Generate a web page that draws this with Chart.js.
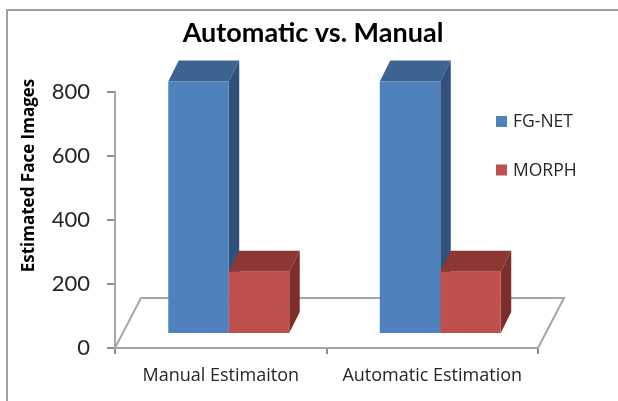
<!DOCTYPE html>
<html>
<head>
<meta charset="utf-8">
<style>
    html, body { margin: 0; padding: 0; background: #fff; }
    #wrap { position: relative; width: 618px; height: 401px; overflow: hidden; }
    #frame { position: absolute; left: 6px; top: 9px; width: 640px; height: 420px; border: 2px solid #a0a0a0; box-sizing: border-box; }
    canvas { position: absolute; left: 0; top: 0; }
</style>
<script src="https://cdn.jsdelivr.net/npm/chart.js@4"></script>
</head>
<body>
<div id="wrap">
    <div id="frame"></div>
    <canvas id="faceChart" width="618" height="401"></canvas>
</div>
<script>
const categories = ['Manual Estimaiton', 'Automatic Estimation'];
const fgNet = [790, 790];
const morph = [195, 195];
const yTicks = [0, 200, 400, 600, 800];
const yAxisTitle = 'Estimated Face Images';

// bar fronts sit a little way into the floor, extrusion goes up and to the right
const barShift = { x: 8, y: -14 };
const barDepth = { x: 10.5, y: -21 };
const floorDepth = { x: 26, y: -50 };

const shades = {
    'FG-NET': { front: '#4f81bd', top: '#3c6491', side: '#30527a' },
    'MORPH': { front: '#c0504d', top: '#8e3836', side: '#7c2e2c' }
};

function poly(ctx, pts, fill) {
    ctx.beginPath();
    pts.forEach((p, i) => i ? ctx.lineTo(p[0], p[1]) : ctx.moveTo(p[0], p[1]));
    ctx.closePath();
    ctx.fillStyle = fill;
    ctx.fill();
}

// title is centred on the whole canvas, not on the padded layout box
const titleShift = {
    id: 'titleShift',
    afterLayout(chart) {
        const t = chart.titleBlock;
        const d = chart.width / 2 + 4 - (t.left + t.right) / 2;
        t.left += d;
        t.right += d;
    }
};

const floorPlugin = {
    id: 'floor',
    beforeDatasetsDraw(chart) {
        const { ctx, chartArea: a } = chart;
        ctx.save();
        ctx.strokeStyle = '#a6a6a6';
        ctx.lineWidth = 2;
        ctx.beginPath();
        ctx.moveTo(a.left, a.bottom);
        ctx.lineTo(a.left + floorDepth.x, a.bottom + floorDepth.y);
        ctx.lineTo(a.right + floorDepth.x, a.bottom + floorDepth.y);
        ctx.lineTo(a.right, a.bottom);
        ctx.stroke();
        ctx.restore();
    }
};

// tops and sides go down first in series order, the library then paints the fronts
const bars3d = {
    id: 'bars3d',
    beforeDatasetsDraw(chart) {
        const { ctx } = chart;
        ctx.save();
        ctx.translate(barShift.x, barShift.y);
        chart.data.datasets.forEach((ds, i) => {
            const c = shades[ds.label];
            chart.getDatasetMeta(i).data.forEach(bar => {
                const l = bar.x - bar.width / 2, r = bar.x + bar.width / 2;
                const t = bar.y, b = bar.base;
                poly(ctx, [[l, t], [l + barDepth.x, t + barDepth.y], [r + barDepth.x, t + barDepth.y], [r, t]], c.top);
                poly(ctx, [[r, t], [r + barDepth.x, t + barDepth.y], [r + barDepth.x, b + barDepth.y], [r, b]], c.side);
            });
        });
        ctx.restore();
    },
    beforeDatasetDraw(chart) {
        chart.ctx.save();
        chart.ctx.translate(barShift.x, barShift.y);
    },
    afterDatasetDraw(chart) {
        chart.ctx.restore();
    }
};

const legend3d = {
    id: 'legend3d',
    afterDraw(chart) {
        const { ctx } = chart;
        ctx.save();
        ctx.font = '17.5px "Open Sans"';
        ctx.textBaseline = 'middle';
        chart.data.datasets.forEach((ds, i) => {
            const y = 121.5 + i * 48.5;
            ctx.fillStyle = ds.backgroundColor;
            ctx.fillRect(496, y - 5.5, 11, 11);
            ctx.fillStyle = '#262626';
            ctx.fillText(ds.label, 513, y + 1);
        });
        ctx.restore();
    }
};

// axis title sits higher than the axis midpoint, so the built-in scale title won't do
const yTitle = {
    id: 'yTitle',
    afterDraw(chart) {
        const { ctx } = chart;
        ctx.save();
        ctx.translate(29.5, 175.5);
        ctx.rotate(-Math.PI / 2);
        ctx.font = 'bold 17px "Open Sans"';
        ctx.textAlign = 'center';
        ctx.textBaseline = 'middle';
        ctx.fillStyle = '#000';
        ctx.fillText(yAxisTitle, 0, 0);
        ctx.restore();
    }
};

new Chart(document.getElementById('faceChart'), {
    type: 'bar',
    data: {
        labels: categories,
        datasets: [
            { label: 'FG-NET', data: fgNet, backgroundColor: shades['FG-NET'].front },
            { label: 'MORPH', data: morph, backgroundColor: shades['MORPH'].front }
        ]
    },
    options: {
        responsive: false,
        animation: false,
        layout: { padding: { left: 20, right: 80, top: 17, bottom: 14 } },
        datasets: { bar: { categoryPercentage: 0.572, barPercentage: 1 } },
        plugins: {
            legend: { display: false },
            tooltip: { enabled: false },
            title: {
                display: true,
                text: 'Automatic vs. Manual',
                color: '#000',
                font: { family: 'Lato', size: 27, weight: 'bold' },
                padding: { top: 0, bottom: 43 }
            }
        },
        scales: {
            x: {
                afterFit: s => { s.height = 39; },
                grid: { drawOnChartArea: false, tickLength: 6, color: '#8c8c8c', lineWidth: 2 },
                border: { color: '#a6a6a6', width: 2 },
                ticks: { color: '#262626', font: { family: 'Open Sans', size: 18 }, padding: 11, maxRotation: 0 }
            },
            y: {
                min: 0,
                max: 800,
                afterFit: s => { s.width = 95; },
                afterBuildTicks: s => { s.ticks = yTicks.map(v => ({ value: v })); },
                grid: { drawOnChartArea: false, tickLength: 8, color: '#8c8c8c', lineWidth: 2 },
                border: { color: '#a6a6a6', width: 2 },
                ticks: { color: '#262626', font: { family: 'Lato', size: 22 }, padding: 17 }
            }
        }
    },
    plugins: [titleShift, floorPlugin, bars3d, legend3d, yTitle]
});
</script>
</body>
</html>
